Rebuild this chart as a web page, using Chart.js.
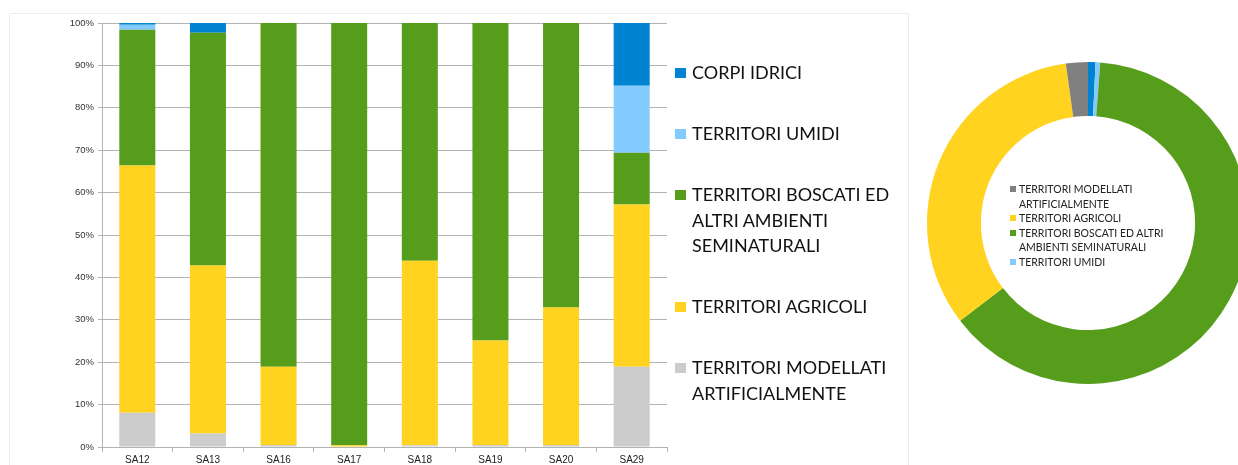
<!DOCTYPE html>
<html>
<head>
<meta charset="utf-8">
<script src="https://cdn.jsdelivr.net/npm/chart.js@4"></script>
<style>
    body { margin: 0; width: 1238px; height: 465px; overflow: hidden; background: #fff; position: relative; }
    #frame { position: absolute; left: 9px; top: 13px; width: 898px; height: 470px; border: 1px solid #ececec; }
    #barChart { position: absolute; left: 0; top: 0; }
    #pieChart { position: absolute; left: 918px; top: 53px; }
    #barLegend { position: absolute; left: 675px; top: 60px; font-family: Lato, sans-serif; font-size: 18px; line-height: 25.5px; color: #111; }
    #barLegend .item { position: relative; padding-left: 17px; width: 205px; margin-bottom: 35.5px; }
    #barLegend .box { position: absolute; left: 0; top: 7.5px; width: 10.5px; height: 10.5px; }
    #pieLegend { position: absolute; left: 1010px; top: 182px; font-family: Lato, sans-serif; font-size: 10.5px; line-height: 14.6px; color: #222; }
    #pieLegend .item { position: relative; padding-left: 9px; width: 150px; }
    #pieLegend .box { position: absolute; left: 0; top: 4.3px; width: 6px; height: 6px; }
</style>
</head>
<body>
<div id="frame"></div>
<canvas id="barChart" width="907" height="465"></canvas>
<div id="barLegend"></div>
<canvas id="pieChart" width="340" height="340"></canvas>
<div id="pieLegend"></div>

<script>
// === Dati ===
const categorie = ['SA12', 'SA13', 'SA16', 'SA17', 'SA18', 'SA19', 'SA20', 'SA29'];

const modellati = [8.1, 3.2, 0.5, 0, 0.4, 0.5, 0.5, 18.9];
const agricoli  = [58.3, 39.6, 18.4, 0.4, 43.5, 24.6, 32.4, 38.3];
const boscati   = [32.0, 54.9, 81.1, 99.6, 56.1, 74.9, 67.1, 12.2];
const umidi     = [1.2, 0, 0, 0, 0, 0, 0, 15.8];
const idrici    = [0.4, 2.3, 0, 0, 0, 0, 0, 14.8];

const yTicks = [0, 10, 20, 30, 40, 50, 60, 70, 80, 90, 100];

// torta: in senso orario dall'alto
const pieLabels = ['CORPI IDRICI', 'TERRITORI UMIDI', 'TERRITORI BOSCATI ED ALTRI AMBIENTI SEMINATURALI', 'TERRITORI AGRICOLI', 'TERRITORI MODELLATI ARTIFICIALMENTE'];
const pieValues = [0.75, 0.47, 63.4, 33.2, 2.2];

const BLU = '#0084d1';
const AZZURRO = '#83caff';
const VERDE = '#579d1c';
const GIALLO = '#ffd320';
const GRIGIO = '#cccccc';
const GRIGIO_SCURO = '#808080';
const GRID = '#b3b3b3';

Chart.defaults.font.family = '"Liberation Sans", Arial, sans-serif';
Chart.defaults.color = '#333';

// === Grafico a barre ===
const barCtx = document.getElementById('barChart').getContext('2d');

const barChart = new Chart(barCtx, {
    type: 'bar',
    data: {
        labels: categorie,
        datasets: [
            { label: 'TERRITORI MODELLATI ARTIFICIALMENTE', data: modellati, backgroundColor: GRIGIO },
            { label: 'TERRITORI AGRICOLI', data: agricoli, backgroundColor: GIALLO },
            { label: 'TERRITORI BOSCATI ED ALTRI AMBIENTI SEMINATURALI', data: boscati, backgroundColor: VERDE },
            { label: 'TERRITORI UMIDI', data: umidi, backgroundColor: AZZURRO },
            { label: 'CORPI IDRICI', data: idrici, backgroundColor: BLU }
        ]
    },
    options: {
        responsive: false,
        animation: false,
        datasets: { bar: { barPercentage: 0.51, categoryPercentage: 1, borderWidth: 0 } },
        layout: { padding: { top: 23, right: 240, left: 0, bottom: 0 } },
        plugins: { legend: { display: false }, tooltip: { enabled: false } },
        scales: {
            x: {
                stacked: true,
                grid: {
                    offset: true,
                    drawOnChartArea: true,
                    color: (ctx) => ctx.index === categorie.length ? GRID : 'rgba(0,0,0,0)',
                    tickColor: GRID,
                    tickLength: 5
                },
                border: { color: GRID },
                ticks: { font: { size: 10 }, padding: 2, color: '#222' },
                afterFit: (scale) => { scale.height = 18; }
            },
            y: {
                stacked: true,
                min: 0,
                max: 100,
                afterBuildTicks: (scale) => { scale.ticks = yTicks.map(v => ({ value: v })); },
                grid: { color: GRID, tickColor: GRID, tickLength: 4 },
                border: { color: GRID },
                ticks: { font: { size: 9.5 }, padding: 4, color: '#333', callback: (v) => v + '%' },
                afterFit: (scale) => { scale.width = 102; }
            }
        }
    }
});

// legenda a destra (ordine inverso)
const barLegend = document.getElementById('barLegend');
barChart.data.datasets.slice().reverse().forEach(ds => {
    const item = document.createElement('div');
    item.className = 'item';
    item.innerHTML = `<span class="box" style="background:${ds.backgroundColor}"></span>${ds.label}`;
    barLegend.appendChild(item);
});

// === Ciambella ===
const pieCtx = document.getElementById('pieChart').getContext('2d');
const pieColors = [BLU, AZZURRO, VERDE, GIALLO, GRIGIO_SCURO];

const pieChart = new Chart(pieCtx, {
    type: 'doughnut',
    data: {
        labels: pieLabels,
        datasets: [{ data: pieValues, backgroundColor: pieColors, borderWidth: 0 }]
    },
    options: {
        responsive: false,
        animation: false,
        cutout: '66.5%',
        layout: { padding: 9 },
        plugins: { legend: { display: false }, tooltip: { enabled: false } }
    }
});

// legenda dentro il foro (senza corpi idrici, come nell'originale)
const pieLegend = document.getElementById('pieLegend');
pieLabels.map((l, i) => ({ l, c: pieColors[i] })).slice(1).reverse().forEach(e => {
    const item = document.createElement('div');
    item.className = 'item';
    item.innerHTML = `<span class="box" style="background:${e.c}"></span>${e.l}`;
    pieLegend.appendChild(item);
});
</script>
</body>
</html>
